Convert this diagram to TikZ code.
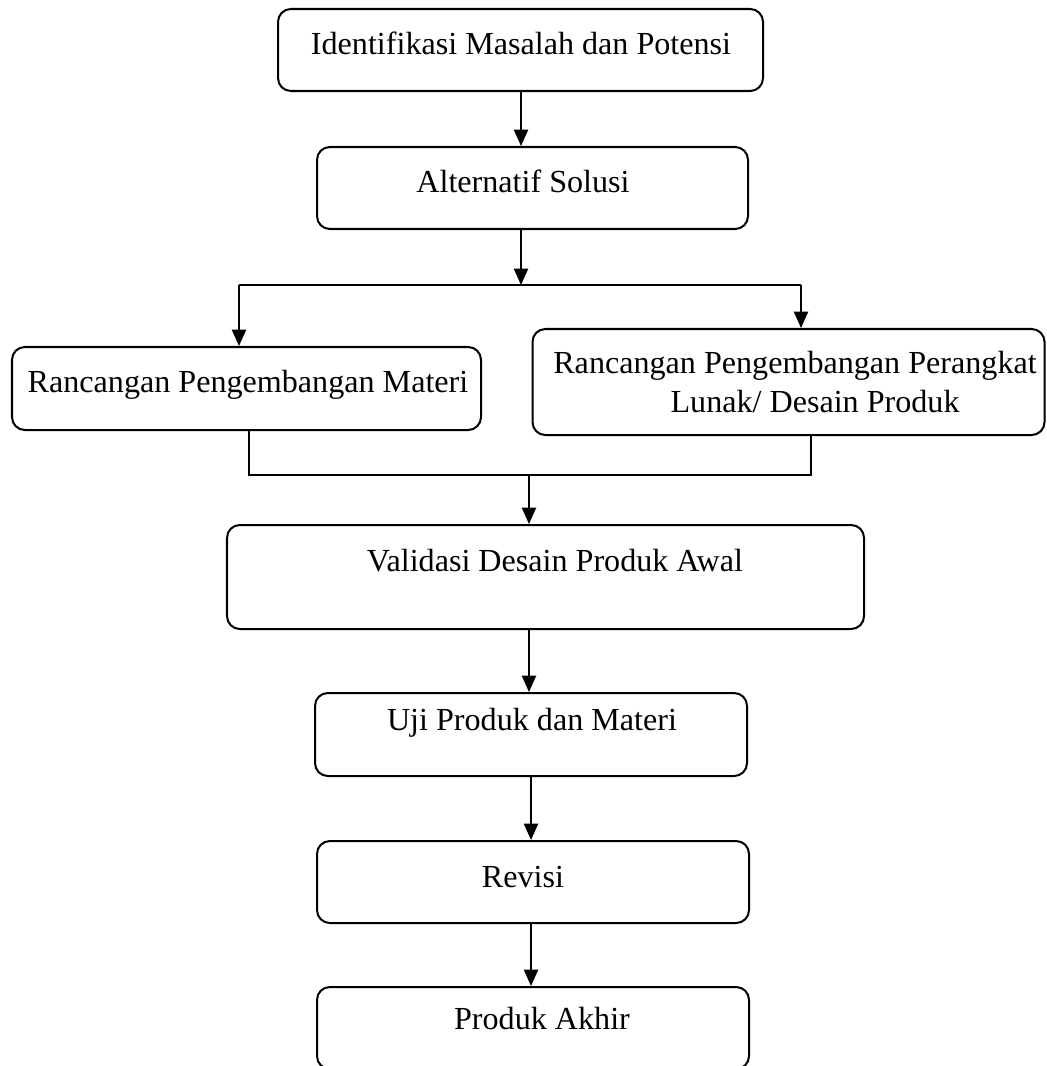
\documentclass[tikz,border=0pt]{standalone}
\usepackage{fontspec}
\setmainfont{Liberation Serif}
\usetikzlibrary{arrows.meta}
\def\u{0.014cm}
\tikzset{
  x=0.014cm, y=-0.014cm,
  box/.style={draw, line width=0.8pt, rounded corners=0.18cm, inner sep=0pt},
  txt/.style={font=\fontsize{12.8}{15.2}\selectfont, inner sep=0pt, align=center},
  conn/.style={line width=0.8pt},
  arr/.style={conn, -{Triangle[width=5.6pt,length=6.5pt]}}
}
\begin{document}
\begin{tikzpicture}
\useasboundingbox (0,0) rectangle (1046,1066);
\clip (0,0) rectangle (1046,1066);
% boxes
\node[box, minimum width=485*\u, minimum height=82*\u] (b1) at (520.5,50) {};
\node[box, minimum width=431*\u, minimum height=82*\u] (b2) at (532.5,188) {};
\node[box, minimum width=469*\u, minimum height=83*\u] (b3) at (246.5,388.5) {};
\node[box, minimum width=512*\u, minimum height=106*\u] (b4) at (788.5,382) {};
\node[box, minimum width=637*\u, minimum height=104*\u] (b5) at (545.5,577) {};
\node[box, minimum width=432*\u, minimum height=83*\u] (b6) at (531,734.5) {};
\node[box, minimum width=432*\u, minimum height=82*\u] (b7) at (533,882) {};
\node[box, minimum width=432*\u, minimum height=82*\u] (b8) at (533,1028) {};
% texts
\node[txt] (t1) at (521,43) {Identifikasi Masalah dan Potensi};
\node[txt] (t2) at (523,181) {Alternatif Solusi};
\node[txt] (t3) at (248,385) {Rancangan Pengembangan Materi};
\node[txt] (t4) at (795,382) {Rancangan Pengembangan Perangkat\\\hspace*{16pt}Lunak/ Desain Produk};
\node[txt] (t5) at (555,561) {Validasi Desain Produk Awal};
\node[txt] (t6) at (532,723) {Uji Produk dan Materi};
\node[txt] (t7) at (523,877) {Revisi};
\node[txt] (t8) at (542,1019) {Produk Akhir};
% coordinates
\coordinate (s1) at (521,91);
\coordinate (s2) at (521,229);
\coordinate (split) at (521,285);
\coordinate (sl) at (239,285);
\coordinate (sr) at (801,285);
\coordinate (jl) at (249,430);
\coordinate (jr) at (811,435);
\coordinate (jl2) at (249,475);
\coordinate (jr2) at (811,475);
\coordinate (jm) at (529,475);
% connectors
\draw[arr] (s1) -- (s1 |- b2.north);
\draw[arr] (s2) -- (split);
\draw[conn] (sl) -- (sr);
\draw[arr] (sl) -- (sl |- b3.north);
\draw[arr] (sr) -- (sr |- b4.north);
\draw[conn] (jl) -- (jl2) -- (jr2) -- (jr);
\draw[arr] (jm) -- (jm |- b5.north);
\draw[arr] (529,0 |- b5.south) -- (529,0 |- b6.north);
\draw[arr] (531,0 |- b6.south) -- (531,0 |- b7.north);
\draw[arr] (531,0 |- b7.south) -- (531,0 |- b8.north);
\end{tikzpicture}
\end{document}
